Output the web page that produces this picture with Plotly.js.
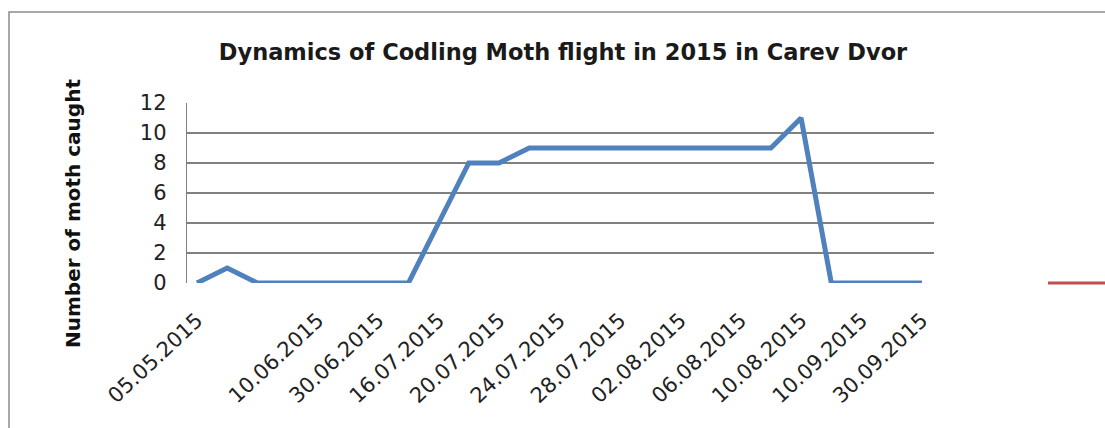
<!DOCTYPE html>
<html>
<head>
<meta charset="utf-8">
<script src="https://cdn.plot.ly/plotly-3.0.1.min.js"></script>
<style>
  html, body { margin: 0; padding: 0; background: #ffffff; }
  #chart { width: 1105px; height: 428px; }
</style>
</head>
<body>
<div id="chart"></div>
<script>
// Sampling dates (categories), one per trap check
const dates = [
  '05.05.2015', '20.05.2015', '25.05.2015', '01.06.2015', '10.06.2015',
  '20.06.2015', '30.06.2015', '10.07.2015', '16.07.2015', '18.07.2015',
  '20.07.2015', '22.07.2015', '24.07.2015', '26.07.2015', '28.07.2015',
  '30.07.2015', '02.08.2015', '04.08.2015', '06.08.2015', '08.08.2015',
  '10.08.2015', '20.08.2015', '10.09.2015', '20.09.2015', '30.09.2015'
];
// Number of moths caught
const mothsCaught = [0, 1, 0, 0, 0, 0, 0, 0, 4, 8, 8, 9, 9, 9, 9, 9, 9, 9, 9, 9, 11, 0, 0, 0, 0];
// Labels shown on the x axis (every other category; the third is blank in the source)
const tickDates = dates.filter((d, i) => i % 2 === 0);
const tickLabels = [
  '05.05.2015', '', '10.06.2015', '30.06.2015', '16.07.2015', '20.07.2015', '24.07.2015',
  '28.07.2015', '02.08.2015', '06.08.2015', '10.08.2015', '10.09.2015', '30.09.2015'
];
const yTicks = [0, 2, 4, 6, 8, 10, 12];

const L = 187, R = 934, T = 103, B = 283, W = 1105, H = 428;
const pw = R - L, ph = B - T;
const px = v => (v - L) / pw;
const py = v => (B - v) / ph;

const trace = {
  type: 'scatter',
  mode: 'lines',
  x: dates,
  y: mothsCaught,
  line: { color: '#4F81BD', width: 5 },
  hoverinfo: 'x+y',
  showlegend: false
};

const layout = {
  width: W,
  height: H,
  margin: { l: L, r: W - R, t: T, b: H - B, pad: 0 },
  paper_bgcolor: '#ffffff',
  plot_bgcolor: '#ffffff',
  showlegend: false,
  title: {
    text: '<b>Dynamics of Codling Moth flight in 2015 in Carev Dvor</b>',
    font: { family: 'DejaVu Sans', size: 22.5, color: '#1a1a1a' },
    x: 563 / W, xanchor: 'center',
    y: 1 - 52 / H, yanchor: 'middle'
  },
  xaxis: {
    type: 'category',
    range: [-0.33, 24.4],
    tickmode: 'array',
    tickvals: tickDates,
    ticktext: tickLabels,
    tickangle: -43,
    tickfont: { family: 'DejaVu Sans', size: 21, color: '#222' },
    ticks: '',
    showgrid: false,
    zeroline: false,
    showline: false,
    ticklabelstandoff: 20,
    fixedrange: true
  },
  yaxis: {
    range: [0, 12],
    tickmode: 'array',
    tickvals: yTicks,
    tickfont: { family: 'DejaVu Sans', size: 21, color: '#222' },
    ticks: '',
    showgrid: true,
    gridcolor: '#808080',
    gridwidth: 1.2,
    zeroline: false,
    showline: true,
    linecolor: '#808080',
    linewidth: 1.2,
    ticklabelstandoff: 15,
    fixedrange: true
  },
  annotations: [
    {
      text: '<b>Number of moth caught</b>',
      xref: 'paper', yref: 'paper',
      x: px(73), y: py(213),
      xanchor: 'center', yanchor: 'middle',
      textangle: -90,
      showarrow: false,
      font: { family: 'DejaVu Sans', size: 20, color: '#111' }
    }
  ],
  shapes: [
    // outer chart frame
    {
      type: 'rect', xref: 'paper', yref: 'paper',
      x0: px(9), x1: px(1110), y0: py(12), y1: py(440),
      line: { color: '#8c8c8c', width: 1.5 }, fillcolor: 'rgba(0,0,0,0)', layer: 'below'
    },
    // cut-off legend marker at the right edge
    {
      type: 'line', xref: 'paper', yref: 'paper',
      x0: px(1048), x1: px(1106), y0: py(283), y1: py(283),
      line: { color: '#C0504D', width: 3 }
    }
  ]
};

Plotly.newPlot('chart', [trace], layout, { displayModeBar: false, staticPlot: true });
</script>
</body>
</html>
